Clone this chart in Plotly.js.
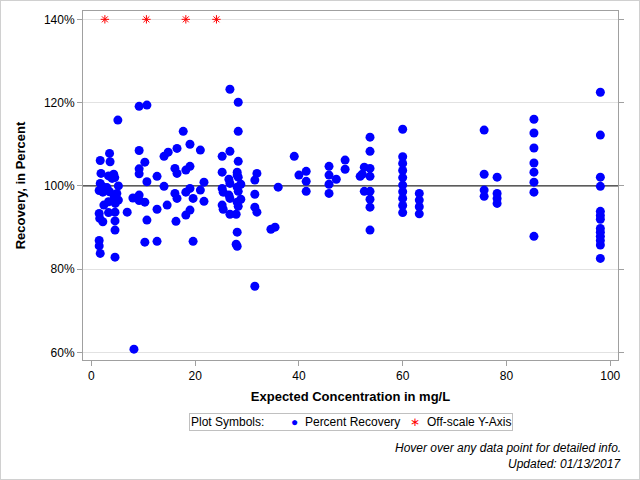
<!DOCTYPE html>
<html>
<head>
<meta charset="utf-8">
<script src="https://cdn.plot.ly/plotly-3.0.1.min.js"></script>
<style>
  html, body { margin: 0; padding: 0; background: #fff; }
  #wrap { position: relative; width: 640px; height: 480px; }
  #chart { width: 640px; height: 480px; }
  #frame { position: absolute; left: 0; top: 0; width: 640px; height: 480px; box-sizing: border-box; border: 1px solid #d0d0d0; pointer-events: none; }
</style>
</head>
<body>
<div id="wrap"><div id="chart"></div><div id="frame"></div></div>
<script>
// Expected concentration (mg/L) and percent recovery
const recX = [
  1.7, 3.5, 3.6, 1.85, 3.3, 4.3, 4.5, 4.0, 1.7, 2.2, 3.0, 5.2, 1.5, 2.2, 2.8, 3.5, 4.9, 4.4, 5.2, 4.6,
  2.4, 3.3, 1.5, 1.6, 3.3, 4.55, 6.9, 2.2, 4.55, 4.55, 1.5, 1.5, 1.7, 4.55, 5.1, 8.2,
  9.2, 10.7, 9.2, 9.2, 9.2, 10.3, 10.7, 12.65, 14.0, 14.0, 14.8, 17.7, 16.5, 19.0, 16.1, 16.5, 18.2, 19.0,
  19.0, 18.2, 16.1, 16.5, 19.6, 21.0, 21.0, 8.0, 9.2, 9.2, 10.3, 10.7, 12.65, 14.6, 16.3, 18.2, 19.0,
  10.3, 12.65, 19.6, 21.7, 21.7,
  26.7, 28.3, 28.3, 25.2, 26.7, 28.3, 25.2, 28.1, 28.3, 28.1, 26.5, 26.7, 28.8, 25.2, 25.4, 28.1, 28.3,
  26.5, 26.7, 28.8, 28.1, 28.3, 25.2, 25.4, 26.7, 27.9, 28.1, 27.9, 28.1, 31.9, 31.5, 31.5, 31.5, 31.9,
  31.5, 34.6, 35.4, 36.0, 39.1, 40.0, 41.4, 41.4, 41.4,
  45.8, 45.8, 45.8, 45.8, 47.2, 48.9, 48.9, 52.6, 51.8, 52.2, 52.6,
  53.7, 53.7, 53.7, 53.7, 53.7, 53.7, 53.7, 53.7,
  60, 60, 60, 60, 60, 60, 60, 60, 60, 60,
  63.2, 63.2, 63.2, 63.2,
  75.7, 75.7, 75.7, 75.7, 78.2, 78.2, 78.2, 78.2,
  85.3, 85.3, 85.3, 85.3, 85.3, 85.3, 85.3, 85.3,
  98.1, 98.1, 98.1, 98.1, 98.1, 98.1, 98.1, 98.1, 98.1, 98.1, 98.1, 98.1, 98.1
];
const recY = [
  106.1, 107.8, 105.8, 103.0, 102.4, 102.8, 102.0, 101.8, 100.6, 99.8, 99.6, 100.0, 98.9, 98.5, 99.0, 98.6, 98.2, 97.4, 96.6, 95.8,
  95.4, 96.2, 93.4, 92.2, 93.6, 93.7, 93.7, 91.4, 91.6, 89.4, 86.9, 85.6, 83.8, 82.9, 115.8, 60.8,
  119.1, 119.4, 108.5, 104.1, 102.9, 105.7, 101.0, 102.3, 99.9, 107.1, 108.1, 113.1, 109.0, 110.0, 104.2, 103.0, 103.8, 104.7,
  99.4, 98.5, 98.2, 97.0, 97.0, 108.6, 99.0, 97.1, 97.8, 96.5, 96.1, 91.8, 94.4, 95.4, 91.5, 93.0, 94.2,
  86.5, 86.7, 86.7, 100.9, 96.3,
  123.2, 120.1, 113.1, 107.1, 108.3, 105.9, 103.3, 103.3, 102.1, 102.6, 101.6, 100.6, 100.4, 99.4, 98.5, 99.7, 98.7,
  97.8, 97.0, 96.8, 96.1, 95.1, 95.4, 94.4, 93.2, 93.2, 88.9, 86.0, 85.5, 103.0, 101.4, 98.0, 94.9, 93.7,
  75.9, 89.6, 90.1, 99.7, 107.1, 102.6, 103.5, 101.1, 98.7,
  104.7, 102.6, 100.4, 98.2, 101.6, 106.2, 104.0, 104.5, 102.3, 102.8, 98.7,
  111.7, 108.3, 104.2, 102.3, 98.7, 96.8, 94.9, 89.4,
  113.6, 107.0, 105.4, 103.7, 102.0, 100.2, 98.6, 97.0, 95.3, 93.6,
  98.2, 96.6, 95.0, 93.3,
  113.4, 102.8, 99.0, 97.5, 102.1, 98.2, 97.0, 95.8,
  116.0, 112.7, 109.1, 105.5, 103.3, 100.9, 98.5, 87.9,
  122.5, 112.2, 102.1, 99.9, 93.9, 92.9, 92.0, 89.8, 88.9, 87.9, 86.9, 85.8, 82.6
];
// Off-scale points (drawn at the top of the axis)
const offX = [2.6, 10.6, 18.2, 24.1];
const offY = [140, 140, 140, 140];

const yTickVals = [60, 80, 100, 120, 140];
const yTickText = ['60%', '80%', '100%', '120%', '140%'];
const xTickVals = [0, 20, 40, 60, 80, 100];
const xRange = [-1.62, 101.5];
const yRange = [58.2, 142.0];
const refValue = 100;

const FONT = '"Liberation Sans", Arial, sans-serif';

const traces = [
  {
    x: xRange, y: [refValue, refValue], type: 'scatter', mode: 'lines', showlegend: false, hoverinfo: 'skip',
    line: { color: '#000', width: 1 }
  },
  {
    x: recX, y: recY, type: 'scatter', mode: 'markers', name: 'Percent Recovery',
    marker: { color: '#0000ff', size: 9, symbol: 'circle' }
  },
  {
    x: offX, y: offY, type: 'scatter', mode: 'markers', name: 'Off-scale Y-Axis',
    marker: { color: '#ff0000', size: 7, symbol: 'asterisk-open', line: { color: '#ff0000', width: 1 } }
  }
];

const legendText =
  'Plot Symbols:        ' +
  '<span style="color:#0000ff">●</span>  Percent Recovery   ' +
  '<span style="color:#ff0000">∗</span>  Off-scale Y-Axis';

const layout = {
  width: 640, height: 480,
  margin: { l: 83, r: 22, t: 11, b: 120 },
  paper_bgcolor: '#ffffff', plot_bgcolor: '#ffffff',
  font: { family: FONT, size: 12, color: '#000' },
  showlegend: false,
  xaxis: {
    range: xRange, tickvals: xTickVals, ticks: 'outside', ticklen: 5, tickcolor: '#a0a0a0',
    showgrid: false, zeroline: false, showline: true, linecolor: '#a0a0a0', mirror: true,
    tickfont: { family: FONT, size: 12, color: '#000' },
    title: { text: 'Expected Concentration in mg/L', font: { family: FONT, size: 13, color: '#000', weight: 'bold' }, standoff: 9 }
  },
  yaxis: {
    range: yRange, tickvals: yTickVals, ticktext: yTickText, ticks: 'outside', ticklen: 5, tickcolor: '#a0a0a0',
    showgrid: true, gridcolor: '#e2e2e2', zeroline: false, showline: true, linecolor: '#a0a0a0', mirror: 'ticks',
    tickfont: { family: FONT, size: 12, color: '#000' },
    title: { text: 'Recovery, in Percent', font: { family: FONT, size: 13, color: '#000', weight: 'bold' }, standoff: 15 }
  },
  annotations: [
    { xref: 'paper', yref: 'paper', x: 0.501, y: -0.179, xanchor: 'center', yanchor: 'middle', showarrow: false,
      text: legendText, font: { family: FONT, size: 12, color: '#000' },
      bordercolor: '#c0c0c0', borderwidth: 1, borderpad: 1, bgcolor: '#fff' },
    { xref: 'paper', yref: 'paper', x: 1.009, y: -0.252, xanchor: 'right', yanchor: 'middle', showarrow: false,
      text: '<i>Hover over any data point for detailed info.</i>', font: { family: FONT, size: 12, color: '#000' } },
    { xref: 'paper', yref: 'paper', x: 1.009, y: -0.297, xanchor: 'right', yanchor: 'middle', showarrow: false,
      text: '<i>Updated: 01/13/2017</i>', font: { family: FONT, size: 12, color: '#000' } }
  ]
};

Plotly.newPlot('chart', traces, layout, { displayModeBar: false });
</script>
</body>
</html>
